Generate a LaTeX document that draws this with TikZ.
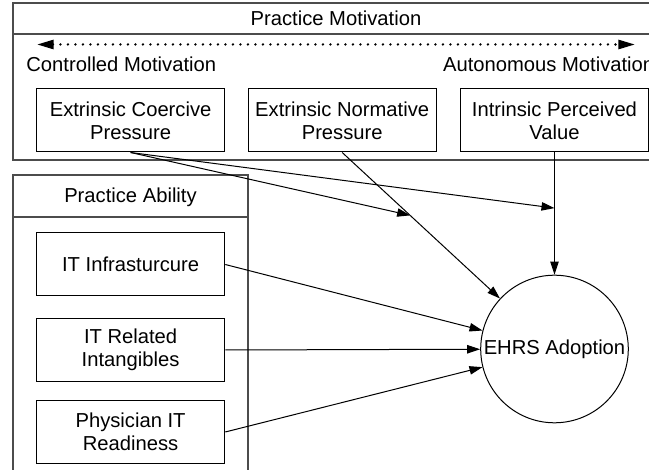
\documentclass[tikz,border=0pt]{standalone}
\usepackage{fontspec}
\setmainfont{Liberation Sans}
\usetikzlibrary{calc,arrows.meta}

\tikzset{
  panel/.style={line width=0.75pt, black!70},
  factor/.style={draw, line width=0.5pt, minimum width=94.2pt, minimum height=31.5pt,
    inner sep=0pt, align=center, font=\fontsize{10.1pt}{11.6pt}\selectfont},
  caption/.style={inner sep=0pt, font=\fontsize{10.1pt}{11.6pt}\selectfont},
  outcome/.style={draw, circle, line width=0.5pt, minimum size=73.8pt, inner sep=0pt,
    font=\fontsize{10.1pt}{11.6pt}\selectfont},
  link/.style={line width=0.5pt, -{Triangle[length=6.5pt,width=4.2pt]}},
  scale line/.style={line width=1.3pt, line cap=round, dash pattern=on 0pt off 3.75pt,
    {Triangle[length=8.3pt,width=4.5pt]}-{Triangle[length=8.3pt,width=4.5pt]}}
}

\begin{document}
\begin{tikzpicture}[x=0.5pt, y=-0.5pt]

\useasboundingbox (0,0) rectangle (649,470);
\clip (0,0) rectangle (649,470);

% practice motivation
\draw[panel] (13,3) rectangle (659,160);
\draw[panel] (13,34) -- (659,34);
\node[caption] (pmtitle) at (336,18.5) {Practice Motivation};
\coordinate (ctl) at (37,44.5);
\coordinate (aut) at (635,44.5);
\draw[scale line] (ctl) -- (aut);
\node[caption, anchor=west] (ctltext) at (26,64) {Controlled Motivation};
\node[caption, anchor=west] (auttext) at (442.7,64) {Autonomous Motivation};

\node[factor] (ecp) at (130.6,120.5) {Extrinsic Coercive\\Pressure};
\node[factor] (enp) at (342.2,120.5) {Extrinsic Normative\\Pressure};
\node[factor] (ipv) at (554.5,120.5) {Intrinsic Perceived\\Value};

% practice ability
\draw[panel] (13,175) rectangle (248,480);
\draw[panel] (13,217) -- (248,217);
\node[caption] (patitle) at (130.5,197) {Practice Ability};

\node[factor] (iti) at (130.6,264.5) {IT Infrasturcure};
\node[factor] (itr) at (130.6,350) {IT Related\\Intangibles};
\node[factor] (pitr) at (130.6,432) {Physician IT\\Readiness};

% outcome
\node[outcome] (adopt) at (554.5,349) {EHRS Adoption};

\coordinate (m1) at ($(enp.south)!0.32!(adopt)$);
\coordinate (m2) at ($(ipv.south)!0.455!(adopt.north)$);

\draw[link] (ecp.south) -- (m1);
\draw[link] (ecp.south) -- (m2);
\draw[link] (enp.south) -- (adopt);
\draw[link] (ipv.south) -- (adopt.north);
\draw[link] (iti.east) -- (adopt);
\draw[link] (itr.east) -- (adopt);
\draw[link] (pitr.east) -- (adopt);

\end{tikzpicture}
\end{document}
